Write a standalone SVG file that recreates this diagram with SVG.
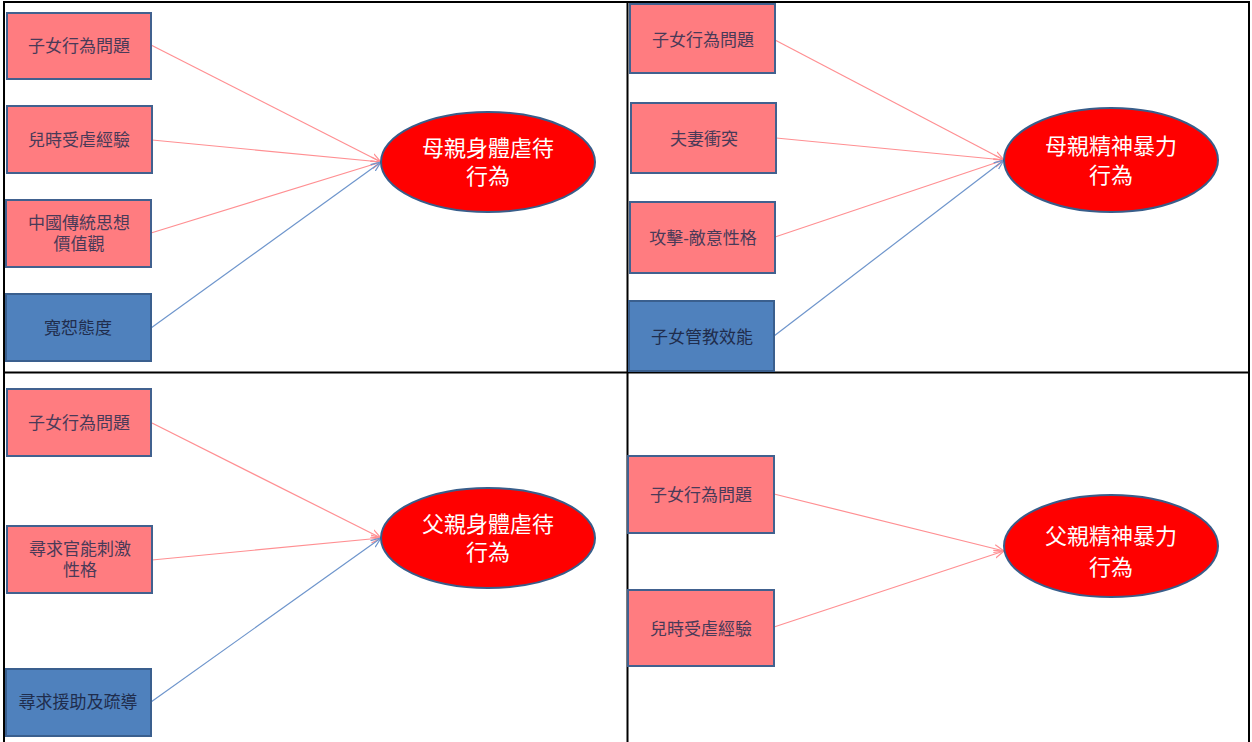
<svg xmlns="http://www.w3.org/2000/svg" width="1252" height="742" viewBox="0 0 1252 742">
<defs>
<marker id="ap" viewBox="0 0 10 10" refX="10" refY="5" markerWidth="10" markerHeight="10" markerUnits="userSpaceOnUse" orient="auto"><path d="M0,1 L10,5 L0,9" fill="none" stroke="#FF8F92" stroke-width="1.2"/></marker>
<marker id="ab" viewBox="0 0 10 10" refX="10" refY="5" markerWidth="10" markerHeight="10" markerUnits="userSpaceOnUse" orient="auto"><path d="M0,1 L10,5 L0,9" fill="none" stroke="#6E95CC" stroke-width="1.2"/></marker>
<style>
.grid{stroke:#000;stroke-width:2;fill:none}
.pk{fill:#FF7C80;stroke:#41618F;stroke-width:2}
.bl{fill:#4F81BD;stroke:#3A5F8E;stroke-width:2}
.el{fill:#FF0000;stroke:#385D8A;stroke-width:2}
.t{font-family:"Liberation Sans","Noto Sans CJK TC",sans-serif;font-size:17px;text-anchor:middle;fill:#4A3A58}
.tb{font-family:"Liberation Sans","Noto Sans CJK TC",sans-serif;font-size:17px;text-anchor:middle;fill:#1F2D4D}
.te{font-family:"Liberation Sans","Noto Sans CJK TC",sans-serif;font-size:22px;text-anchor:middle;fill:#FFFFFF}
.lp{stroke:#FF8F92;stroke-width:1.2;fill:none;marker-end:url(#ap)}
.lb{stroke:#6E95CC;stroke-width:1.2;fill:none;marker-end:url(#ab)}
</style>
</defs>
<g id="table">
<line class="grid" x1="4" y1="2" x2="1250" y2="2"/>
<line class="grid" x1="4" y1="1" x2="4" y2="742"/>
<line class="grid" x1="627.5" y1="1" x2="627.5" y2="742"/>
<line class="grid" x1="1249" y1="1" x2="1249" y2="742"/>
<line class="grid" x1="4" y1="372.5" x2="1250" y2="372.5"/>
</g>
<g id="connectors">
<line class="lp" x1="151" y1="45" x2="381" y2="162"/>
<line class="lp" x1="152" y1="140" x2="381" y2="162"/>
<line class="lp" x1="151" y1="233" x2="381" y2="162"/>
<line class="lb" x1="151" y1="328" x2="381" y2="162"/>
<line class="lp" x1="775" y1="40" x2="1004" y2="160"/>
<line class="lp" x1="776" y1="138" x2="1004" y2="160"/>
<line class="lp" x1="775" y1="237" x2="1004" y2="160"/>
<line class="lb" x1="774" y1="336" x2="1004" y2="160"/>
<line class="lp" x1="152" y1="423" x2="381" y2="538"/>
<line class="lp" x1="152" y1="560" x2="381" y2="538"/>
<line class="lb" x1="151" y1="702" x2="381" y2="538"/>
<line class="lp" x1="774" y1="494" x2="1004" y2="551"/>
<line class="lp" x1="774" y1="627" x2="1004" y2="551"/>
</g>
<g id="q1-n1"><rect class="pk" x="7" y="13" width="144" height="66"/><text class="t" x="79" y="52">子女行為問題</text></g>
<g id="q1-n2"><rect class="pk" x="7" y="106" width="145" height="67"/><text class="t" x="79" y="146">兒時受虐經驗</text></g>
<g id="q1-n3"><rect class="pk" x="6" y="200" width="145" height="67"/><text class="t" x="79" y="229">中國傳統思想</text><text class="t" x="79" y="250">價值觀</text></g>
<g id="q1-n4"><rect class="bl" x="6" y="294" width="145" height="67"/><text class="tb" x="78" y="334">寬恕態度</text></g>
<g id="q1-e"><ellipse class="el" cx="488" cy="162" rx="107" ry="50"/><text class="te" x="488" y="156">母親身體虐待</text><text class="te" x="488" y="184">行為</text></g>
<g id="q2-n1"><rect class="pk" x="630" y="4" width="145" height="69"/><text class="t" x="703" y="46">子女行為問題</text></g>
<g id="q2-n2"><rect class="pk" x="631" y="103" width="145" height="70"/><text class="t" x="704" y="145">夫妻衝突</text></g>
<g id="q2-n3"><rect class="pk" x="630" y="202" width="145" height="71"/><text class="t" x="703" y="244">攻擊-敵意性格</text></g>
<g id="q2-n4"><rect class="bl" x="629" y="301" width="145" height="70"/><text class="tb" x="702" y="343">子女管教效能</text></g>
<g id="q2-e"><ellipse class="el" cx="1111" cy="160" rx="107" ry="52"/><text class="te" x="1111" y="154">母親精神暴力</text><text class="te" x="1111" y="183">行為</text></g>
<g id="q3-n1"><rect class="pk" x="7" y="389" width="144" height="67"/><text class="t" x="79" y="429">子女行為問題</text></g>
<g id="q3-n2"><rect class="pk" x="7" y="526" width="145" height="67"/><text class="t" x="80" y="555">尋求官能刺激</text><text class="t" x="80" y="576">性格</text></g>
<g id="q3-n3"><rect class="bl" x="6" y="669" width="145" height="67"/><text class="tb" x="78" y="708">尋求援助及疏導</text></g>
<g id="q3-e"><ellipse class="el" cx="488" cy="538" rx="107" ry="50"/><text class="te" x="488" y="532">父親身體虐待</text><text class="te" x="488" y="560">行為</text></g>
<g id="q4-n1"><rect class="pk" x="628" y="456" width="146" height="77"/><text class="t" x="701" y="501">子女行為問題</text></g>
<g id="q4-n2"><rect class="pk" x="628" y="590" width="146" height="76"/><text class="t" x="701" y="635">兒時受虐經驗</text></g>
<g id="q4-e"><ellipse class="el" cx="1111" cy="546" rx="107" ry="51"/><text class="te" x="1111" y="544">父親精神暴力</text><text class="te" x="1111" y="575">行為</text></g>
</svg>
